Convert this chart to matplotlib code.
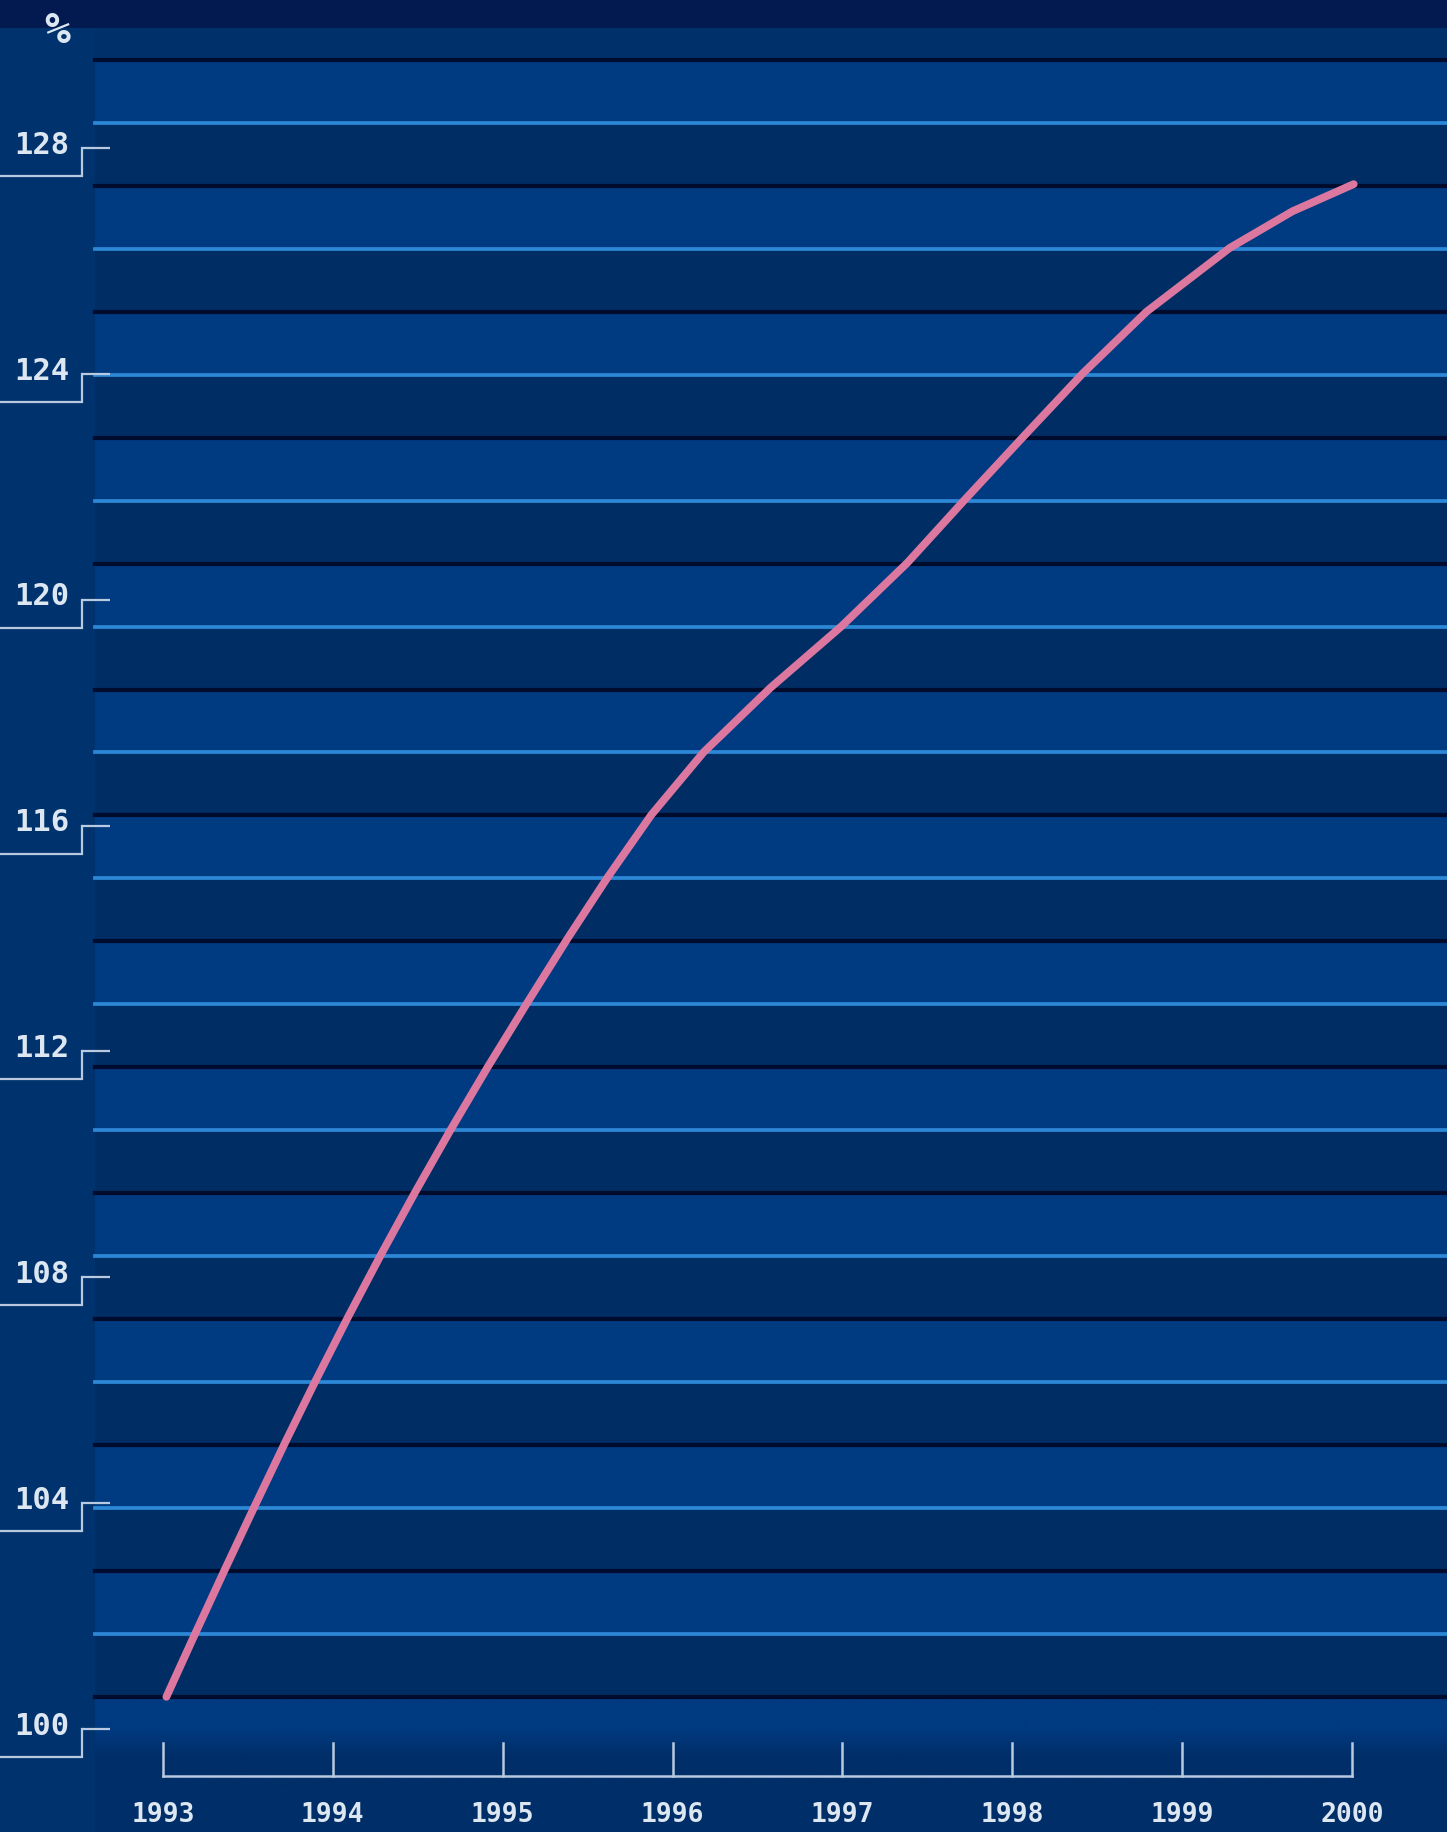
"""
Index chart 1993-2000 (1993 ~ 100) on a striped navy background.
"""
import numpy as np
import matplotlib
matplotlib.use("Agg")
import matplotlib.pyplot as plt
from matplotlib.transforms import blended_transform_factory

# ---- data ----
years = [1993, 1994, 1995, 1996, 1997, 1998, 1999, 2000]
y_ticks = [100, 104, 108, 112, 116, 120, 124, 128]
unit_label = "%"

# traced points of the curve (fractional year, index value)
line_x = [1993.02, 1993.185, 1993.365, 1993.537, 1993.72, 1993.892, 1994.09,
          1994.283, 1994.485, 1994.689, 1994.913, 1995.144, 1995.384,
          1995.619, 1995.875, 1996.183, 1996.576, 1996.991, 1997.381,
          1997.72, 1998.075, 1998.419, 1998.79, 1999.28, 1999.65, 2000.01]
line_y = [100.57, 101.66, 102.83, 103.93, 105.08, 106.13, 107.30,
          108.40, 109.51, 110.59, 111.73, 112.86, 114.01,
          115.09, 116.19, 117.30, 118.44, 119.52, 120.65,
          121.77, 122.92, 124.02, 125.10, 126.23, 126.88, 127.36]

# ---- look ----
W, H = 1447, 1832
NAVY = "#021a50"
TOP_BAND = "#00306a"
LEFT_PANEL = "#00336e"
BAND_MID = "#003a80"
BAND_DARK = "#002d63"
BLACK_LINE = "#000c2e"
LIGHT_LINE = "#2c88d6"
BOTTOM = "#002e68"
CURVE = "#dc78a0"
TEXT = "#dde7f2"
TICKC = "#b9c9df"
FONT = "DejaVu Sans Mono"

# pixel <-> data mapping (x: 1993 at px 163, 2000 at px 1352; y: 128 at px 148, 100 at px 1729)
px_per_year = (1352 - 163) / 7.0
px_per_unit = (1729 - 148) / 28.0


def px_x(p):
    return 1993 + (p - 163) / px_per_year


def px_y(p):
    return 100 + (1729 - p) / px_per_unit


fig = plt.figure(figsize=(W / 100, H / 100), dpi=100)
fig.patch.set_facecolor(LEFT_PANEL)
ax = fig.add_axes([0, 0, 1, 1])
ax.set_xlim(px_x(0), px_x(W))
ax.set_ylim(px_y(H), px_y(0))
ax.axis("off")

plot_left = 95 / W

# top strip
ax.axhspan(px_y(28), px_y(0), color=NAVY, lw=0, zorder=0)
ax.axhspan(px_y(60), px_y(28), xmin=plot_left, color=TOP_BAND, lw=0, zorder=0)

# striped bands: black line, mid band, light line, dark band
period = 125.9
n_black = 14
for k in range(n_black):
    yb = 60 + k * period
    if k < n_black - 1:
        ax.axhspan(px_y(yb + period / 2), px_y(yb), xmin=plot_left,
                   color=BAND_MID, lw=0, zorder=0)
        ax.axhspan(px_y(yb + period), px_y(yb + period / 2), xmin=plot_left,
                   color=BAND_DARK, lw=0, zorder=0)
        ax.axhline(px_y(yb + period / 2), xmin=plot_left, color=LIGHT_LINE,
                   lw=2.7, zorder=1)
    ax.axhline(px_y(yb), xmin=plot_left, color=BLACK_LINE, lw=3.0, zorder=1)

# bottom area: mid band fading to darker blue
last_black = 60 + (n_black - 1) * period
grad = np.linspace(0, 1, 64).reshape(-1, 1)
c0 = np.array(matplotlib.colors.to_rgb(BAND_MID))
c1 = np.array(matplotlib.colors.to_rgb(BOTTOM))
ramp = np.clip((grad - 0.35) / 0.3, 0, 1)
img = c0 * (1 - ramp)[..., None] + c1 * ramp[..., None]
ax.imshow(img, extent=(px_x(95), px_x(W), px_y(1790), px_y(last_black)),
          aspect="auto", zorder=0, interpolation="bilinear")
ax.axhspan(px_y(H), px_y(1790), xmin=plot_left, color=BOTTOM, lw=0, zorder=0)

# y tick brackets and labels
tr_y = blended_transform_factory(ax.transAxes, ax.transData)
drop = 28 / px_per_unit
for t in y_ticks:
    ax.plot([82 / W, 110 / W], [t, t], color=TICKC, lw=1.6, transform=tr_y,
            solid_capstyle="butt", zorder=3)
    ax.plot([0, 82 / W, 82 / W], [t - drop, t - drop, t], color=TICKC, lw=1.6,
            transform=tr_y, solid_joinstyle="miter", zorder=3)
    ax.text(69 / W, t + 0.05, str(t), transform=tr_y, ha="right", va="center",
            color=TEXT, fontsize=22, family=FONT, fontweight="bold", zorder=4)

ax.text(57 / W, px_y(31), unit_label, transform=tr_y, ha="center", va="center",
        color=TEXT, fontsize=31, family=FONT, fontweight="bold", zorder=4)

# x axis bracket with year ticks
tr_x = blended_transform_factory(ax.transData, ax.transAxes)
base = (H - 1776) / H
top = (H - 1743) / H
ax.plot([years[0], years[-1]], [base, base], color=TICKC, lw=1.8,
        transform=tr_x, zorder=3)
for yr in years:
    ax.plot([yr, yr], [base, top], color=TICKC, lw=1.8, transform=tr_x, zorder=3)
    ax.text(yr, (H - 1815) / H, str(yr), transform=tr_x, ha="center",
            va="center", color=TEXT, fontsize=19, family=FONT,
            fontweight="bold", zorder=4)

# the curve
ax.plot(line_x, line_y, color=CURVE, lw=5.6, solid_capstyle="round",
        solid_joinstyle="round", zorder=5)

fig.savefig("out.png", dpi=100, facecolor=fig.get_facecolor())
